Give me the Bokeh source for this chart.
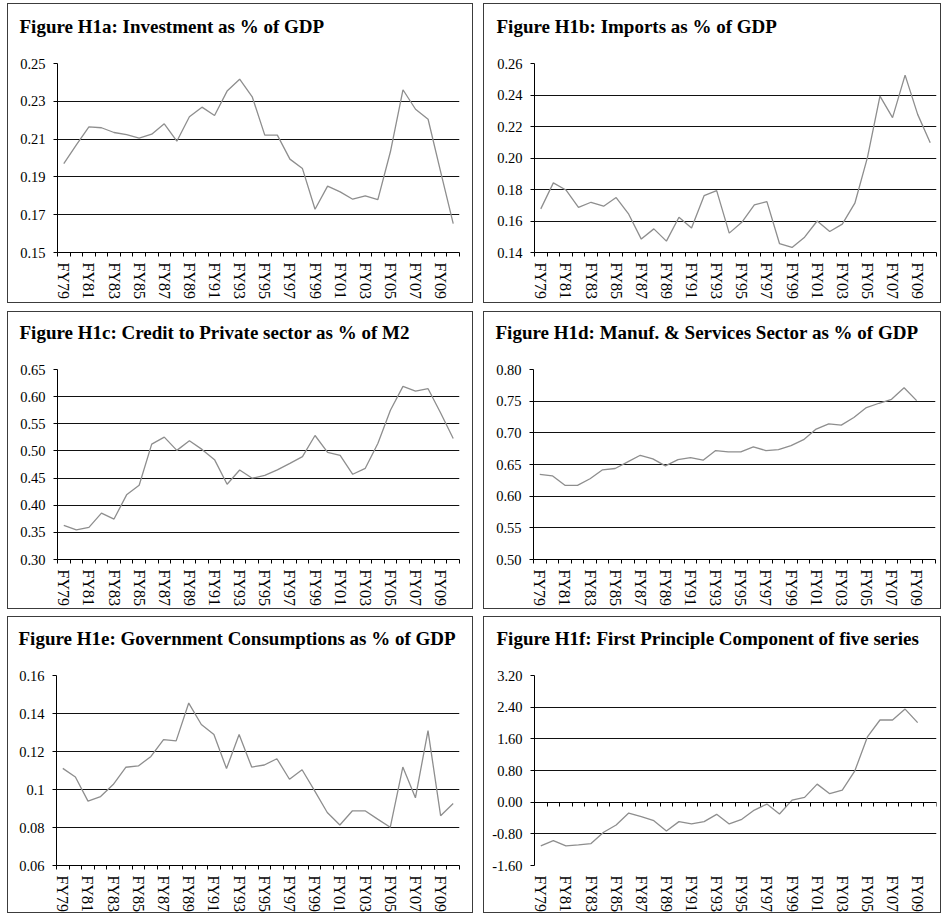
from bokeh.plotting import figure
from bokeh.models import FixedTicker, Range1d, LinearAxis, Title
from bokeh.layouts import column, row
from bokeh.embed import file_html
from bokeh.resources import INLINE

# Fiscal years on the horizontal axis
years = ["FY79", "FY80", "FY81", "FY82", "FY83", "FY84", "FY85", "FY86",
         "FY87", "FY88", "FY89", "FY90", "FY91", "FY92", "FY93", "FY94",
         "FY95", "FY96", "FY97", "FY98", "FY99", "FY00", "FY01", "FY02",
         "FY03", "FY04", "FY05", "FY06", "FY07", "FY08", "FY09", "FY10"]

# Series (shares of GDP / M2, and the principal component score)
investment = [0.197, 0.207, 0.2165, 0.216, 0.2135, 0.2124, 0.2105, 0.2126,
              0.2181, 0.2089, 0.2218, 0.2269, 0.2225, 0.2354, 0.2417, 0.2324,
              0.2121, 0.2121, 0.1994, 0.1944, 0.1729, 0.1851, 0.1821, 0.1782,
              0.1800, 0.1780, 0.2033, 0.2361, 0.2258, 0.2205, 0.1927, 0.1653]

imports = [0.1677, 0.1842, 0.1797, 0.1687, 0.1719, 0.1694, 0.1749, 0.1643,
           0.1485, 0.1550, 0.1472, 0.1624, 0.1556, 0.1761, 0.1793, 0.1523,
           0.1592, 0.1702, 0.1723, 0.1457, 0.1432, 0.1497, 0.1600, 0.1533,
           0.1580, 0.1713, 0.2002, 0.2393, 0.2256, 0.2526, 0.2277, 0.2097]

credit_m2 = [0.3629, 0.3544, 0.3593, 0.3855, 0.3745, 0.4191, 0.4368, 0.5126,
             0.5254, 0.5010, 0.5187, 0.5028, 0.4839, 0.4387, 0.4649, 0.4497,
             0.4550, 0.4650, 0.4771, 0.4894, 0.5284, 0.4973, 0.4918, 0.4570,
             0.4680, 0.5138, 0.5749, 0.6189, 0.6103, 0.6146, 0.5700, 0.5230]

manuf_services = [0.6343, 0.6322, 0.6171, 0.6171, 0.6275, 0.6416, 0.6437, 0.6542,
                  0.6646, 0.6589, 0.6479, 0.6578, 0.6610, 0.6568, 0.6720, 0.6699,
                  0.6699, 0.6777, 0.6720, 0.6735, 0.6798, 0.6892, 0.7059, 0.7143,
                  0.7122, 0.7242, 0.7399, 0.7467, 0.7530, 0.7713, 0.7509]

gov_consumption = [0.1111, 0.1066, 0.0939, 0.0963, 0.1026, 0.1117, 0.1124, 0.1174,
                   0.1263, 0.1256, 0.1455, 0.1342, 0.1289, 0.1110, 0.1289, 0.1118,
                   0.1129, 0.1162, 0.1054, 0.1104, 0.0993, 0.0879, 0.0813, 0.0888,
                   0.0888, 0.0844, 0.0801, 0.1118, 0.0956, 0.1310, 0.0862, 0.0926]

first_pc = [-1.105, -0.971, -1.105, -1.080, -1.046, -0.761, -0.576, -0.274,
            -0.366, -0.467, -0.727, -0.492, -0.551, -0.492, -0.308, -0.551,
            -0.434, -0.199, -0.048, -0.299, 0.053, 0.120, 0.456, 0.213,
            0.305, 0.792, 1.648, 2.076, 2.076, 2.352, 2.008]

# Value-axis ticks and their printed labels
ticks_a = [0.15, 0.17, 0.19, 0.21, 0.23, 0.25]
labels_a = ["0.15", "0.17", "0.19", "0.21", "0.23", "0.25"]
ticks_b = [0.14, 0.16, 0.18, 0.20, 0.22, 0.24, 0.26]
labels_b = ["0.14", "0.16", "0.18", "0.20", "0.22", "0.24", "0.26"]
ticks_c = [0.30, 0.35, 0.40, 0.45, 0.50, 0.55, 0.60, 0.65]
labels_c = ["0.30", "0.35", "0.40", "0.45", "0.50", "0.55", "0.60", "0.65"]
ticks_d = [0.50, 0.55, 0.60, 0.65, 0.70, 0.75, 0.80]
labels_d = ["0.50", "0.55", "0.60", "0.65", "0.70", "0.75", "0.80"]
ticks_e = [0.06, 0.08, 0.10, 0.12, 0.14, 0.16]
labels_e = ["0.06", "0.08", "0.1", "0.12", "0.14", "0.16"]
ticks_f = [-1.6, -0.8, 0.0, 0.8, 1.6, 2.4, 3.2]
labels_f = ["-1.60", "-0.80", "0.00", "0.80", "1.60", "2.40", "3.20"]

SERIF = "Liberation Serif"
BORDER = "1.5px solid #3c3c3c"


def panel(title, values, yticks, ylabels, width, height, borders,
          margin, cross_at_zero=False):
    n = len(years)
    xs = [i + 0.5 for i in range(len(values))]
    p = figure(width=width, height=height, output_backend="svg",
               toolbar_location=None, x_range=Range1d(0, n),
               y_range=Range1d(yticks[0], yticks[-1]),
               min_border_left=borders[0], min_border_right=borders[1],
               min_border_top=borders[2], min_border_bottom=borders[3],
               margin=margin)
    p.styles = {"border": BORDER, "box-sizing": "border-box"}
    p.outline_line_color = None
    p.background_fill_color = "white"
    p.border_fill_color = "white"

    # heading; the trailing blank line lifts it clear of the top gridline
    p.add_layout(Title(text=title + "\n", text_font=SERIF,
                       text_font_style="bold", text_font_size="19px",
                       text_color="black", align="left", offset=-38,
                       standoff=12, vertical_align="bottom"), "above")

    # category labels sit in the middle of every other year slot
    label_pos = [i + 0.5 for i in range(0, n, 2)]
    bounds = [float(i) for i in range(n + 1)]
    ax = p.xaxis[0]
    ax.ticker = FixedTicker(ticks=label_pos, minor_ticks=bounds)
    ax.major_label_overrides = {i + 0.5: years[i] for i in range(0, n, 2)}
    ax.major_label_orientation = "vertical"
    ax.major_label_text_font = SERIF
    ax.major_label_text_font_size = "16px"
    ax.major_label_text_color = "black"
    ax.major_label_standoff = 6
    ax.major_tick_line_color = None
    ax.major_tick_in = 0
    ax.major_tick_out = 4
    ax.minor_tick_in = 0
    ax.minor_tick_out = 4
    ax.minor_tick_line_color = "black"
    ax.axis_line_color = "black"

    if cross_at_zero:
        # horizontal axis crosses the value axis at zero, labels stay low
        ax.axis_line_color = None
        ax.minor_tick_line_color = None
        zero_axis = LinearAxis(ticker=FixedTicker(ticks=[], minor_ticks=bounds),
                               fixed_location=0,
                               major_tick_line_color=None,
                               minor_tick_in=0, minor_tick_out=4,
                               minor_tick_line_color="black",
                               axis_line_color="black")
        p.add_layout(zero_axis, "below")

    yt = FixedTicker(ticks=yticks, minor_ticks=[])
    ay = p.yaxis[0]
    ay.ticker = yt
    ay.major_label_overrides = {v: s for v, s in zip(yticks, ylabels)}
    ay.major_label_text_font = SERIF
    ay.major_label_text_font_size = "14.5px"
    ay.major_label_text_color = "black"
    ay.major_label_standoff = 8
    ay.major_tick_in = 0
    ay.major_tick_out = 4
    ay.major_tick_line_color = "black"
    ay.axis_line_color = "black"

    p.xgrid.visible = False
    p.ygrid.ticker = yt
    p.ygrid.grid_line_color = "#111111"
    p.ygrid.grid_line_width = 1

    p.line(xs, values, line_color="#8e8e8e", line_width=1.3)
    return p


pa = panel("Figure H1a:  Investment  as % of GDP", investment, ticks_a, labels_a,
           466, 300, (49, 15, 59, 52), (3, 0, 0, 7))
pb = panel("Figure H1b:  Imports  as % of GDP", imports, ticks_b, labels_b,
           458, 300, (50, 6, 59, 51), (3, 0, 0, 10))
pc = panel("Figure H1c: Credit to Private sector as % of M2", credit_m2, ticks_c, labels_c,
           466, 298, (49, 15, 56, 51), (8, 0, 0, 7))
pd_ = panel("Figure H1d:  Manuf. & Services Sector  as % of GDP", manuf_services,
            ticks_d, labels_d, 458, 298, (49, 7, 57, 50), (8, 0, 0, 10))
pe = panel("Figure H1e: Government Consumptions as % of GDP", gov_consumption,
           ticks_e, labels_e, 466, 297, (48, 15, 58, 48), (7, 0, 0, 7))
pf = panel("Figure H1f: First Principle Component of five series", first_pc,
           ticks_f, labels_f, 458, 297, (50, 6, 58, 48), (7, 0, 0, 10),
           cross_at_zero=True)

layout = column(row(pa, pb), row(pc, pd_), row(pe, pf))

with open("out.html", "w") as f:
    f.write(file_html(layout, INLINE))
